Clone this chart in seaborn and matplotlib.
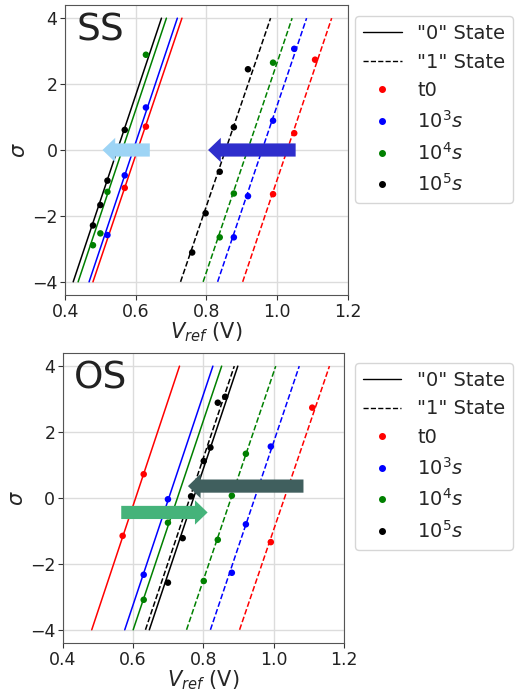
import numpy as np
import pandas as pd
import matplotlib
matplotlib.use("Agg")
import matplotlib.pyplot as plt
from matplotlib.lines import Line2D
import seaborn as sns

sns.set_style("ticks")
plt.rcParams['font.family'] = ['DejaVu Sans']

# ---------------- data ----------------
series_names = ["t0", "1e3", "1e4", "1e5"]
series_labels = ["t0", "$10^3s$", "$10^4s$", "$10^5s$"]
series_colors = ["red", "blue", "green", "black"]
sigma_ends = [-4, 4]

# SS: Vref at sigma=-4 and sigma=+4 for each series
ss_state0_ends = {"t0": [0.479, 0.731], "1e3": [0.468, 0.718], "1e4": [0.437, 0.687], "1e5": [0.423, 0.673]}
ss_state1_ends = {"t0": [0.903, 1.155], "1e3": [0.832, 1.084], "1e4": [0.791, 1.043], "1e5": [0.727, 0.982]}

ss_pts_v = {
    "t0": [0.629, 0.569, 1.108, 1.049, 0.989],
    "1e3": [0.629, 0.569, 0.520, 1.049, 0.989, 0.918, 0.878],
    "1e4": [0.629, 0.520, 0.500, 0.479, 0.989, 0.878, 0.838],
    "1e5": [0.569, 0.520, 0.500, 0.479, 0.918, 0.878, 0.838, 0.798, 0.760],
}
ss_pts_s = {
    "t0": [0.71, -1.15, 2.74, 0.51, -1.34],
    "1e3": [1.29, -0.77, -2.58, 3.07, 0.89, -1.40, -2.65],
    "1e4": [2.89, -1.27, -2.53, -2.89, 2.65, -1.32, -2.65],
    "1e5": [0.61, -0.93, -1.67, -2.29, 2.45, 0.69, -0.66, -1.92, -3.11],
}

# OS
os_state0_ends = {"t0": [0.482, 0.732], "1e3": [0.576, 0.827], "1e4": [0.600, 0.852], "1e5": [0.646, 0.898]}
os_state1_ends = {"t0": [0.903, 1.159], "1e3": [0.820, 1.073], "1e4": [0.752, 1.006], "1e5": [0.635, 0.888]}

os_pts_v = {
    "t0": [0.630, 0.570, 1.110, 0.992],
    "1e3": [0.699, 0.630, 0.992, 0.921, 0.881],
    "1e4": [0.699, 0.630, 0.921, 0.881, 0.841, 0.801],
    "1e5": [0.862, 0.841, 0.820, 0.801, 0.765, 0.741, 0.699],
}
os_pts_s = {
    "t0": [0.72, -1.15, 2.74, -1.34],
    "1e3": [-0.04, -2.33, 1.56, -0.80, -2.27],
    "1e4": [-0.75, -3.09, 1.34, 0.07, -1.27, -2.52],
    "1e5": [3.07, 2.89, 1.53, 1.12, 0.05, -1.22, -2.57],
}

# arrows: (x_start, x_end, sigma, color)
ss_arrows = [(0.640, 0.506, 0.0, "#9DD4F5"), (1.053, 0.805, 0.0, "#2E2ECC")]
os_arrows = [(0.566, 0.812, -0.44, "#45B37A"), (1.085, 0.756, 0.36, "#405F5E")]

xticks = [0.4, 0.6, 0.8, 1.0, 1.2]
yticks = [-4, -2, 0, 2, 4]

# ---------------- plotting ----------------
fig = plt.figure(figsize=(5.29, 6.93), dpi=100)
ax1 = fig.add_axes([0.123, 0.5743, 0.534, 0.4185])
ax2 = fig.add_axes([0.119, 0.0722, 0.531, 0.4185])


def draw_panel(ax, s0, s1, pv, ps, arrows, title, leg_anchor):
    for name, col in zip(series_names, series_colors):
        df0 = pd.DataFrame({"V": s0[name], "s": sigma_ends})
        sns.lineplot(data=df0, x="V", y="s", ax=ax, color=col, lw=1.1,
                     linestyle="-", sort=False, estimator=None)
        df1 = pd.DataFrame({"V": s1[name], "s": sigma_ends})
        sns.lineplot(data=df1, x="V", y="s", ax=ax, color=col, lw=1.1,
                     linestyle="--", sort=False, estimator=None)
    for name, col in zip(series_names, series_colors):
        dfp = pd.DataFrame({"V": pv[name], "s": ps[name]})
        sns.scatterplot(data=dfp, x="V", y="s", ax=ax, color=col, s=22,
                        edgecolor="none", zorder=3)
    for xs, xe, yy, col in arrows:
        ax.arrow(xs, yy, xe - xs, 0, width=0.40, head_width=0.74,
                 head_length=0.036, length_includes_head=True,
                 color=col, lw=0, zorder=5)
    ax.set_xlim(0.4, 1.2)
    ax.set_ylim(-4.4, 4.4)
    ax.set_xticks(xticks)
    ax.set_yticks(yticks)
    ax.grid(True, color="#dcdcdc", lw=1)
    ax.set_axisbelow(True)
    ax.tick_params(labelsize=12.5, colors="#333333", labelcolor="#222222",
                   length=3.5, pad=2)
    for sp in ax.spines.values():
        sp.set_visible(True)
        sp.set_color("#555555")
    ax.set_xlabel("$V_{ref}$ (V)", fontsize=15, labelpad=0)
    ax.set_ylabel("$\\sigma$", fontsize=15, labelpad=2)
    ax.text(0.04, 0.975, title, transform=ax.transAxes, fontsize=27,
            va="top", ha="left", color="#222222")
    handles = [Line2D([], [], color="black", lw=1, ls="-"),
               Line2D([], [], color="black", lw=1, ls="--")]
    for col in series_colors:
        handles.append(Line2D([], [], color=col, marker="o", ls="none", markersize=4))
    labels = ['"0" State', '"1" State'] + series_labels
    ax.legend(handles, labels, loc="upper left", bbox_to_anchor=leg_anchor,
              borderaxespad=0, fontsize=14)


draw_panel(ax1, ss_state0_ends, ss_state1_ends, ss_pts_v, ss_pts_s, ss_arrows, "SS", (1.027, 0.962))
draw_panel(ax2, os_state0_ends, os_state1_ends, os_pts_v, os_pts_s, os_arrows, "OS", (1.039, 0.966))

fig.savefig("out.png", dpi=100)
